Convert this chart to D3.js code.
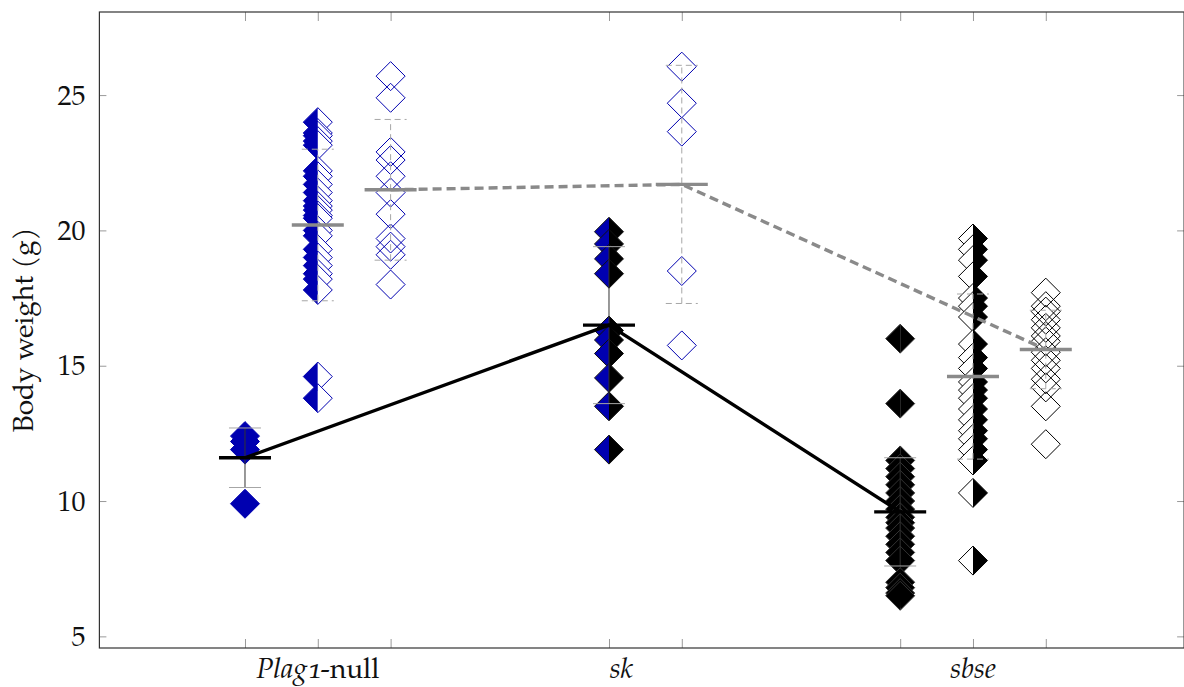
<!DOCTYPE html>
<html>
<head>
<meta charset="utf-8">
<script src="https://cdn.jsdelivr.net/npm/d3@7"></script>
<style>
  body { margin: 0; background: #fff; }
</style>
</head>
<body>
<svg id="chart" width="1184" height="687"></svg>
<script>
// ---- data -------------------------------------------------------------
// x position of every genotype column
const columnPos = [0, 1, 2, 5, 6, 9, 10, 11];

// body weight (g) of each animal, one array per column
const plagHom  = [12.4, 12.2, 11.9, 9.9];
const plagHet  = [24.0, 23.6, 23.5, 23.3, 23.15, 22.2, 22.0, 21.7, 21.4, 21.1, 20.9, 20.75,
                  20.55, 20.45, 20.0, 19.8, 19.3, 19.0, 18.7, 18.4, 18.2, 17.8, 14.6, 13.8];
const plagWt   = [25.7, 24.9, 22.9, 22.6, 22.0, 21.4, 20.6, 19.7, 19.4, 19.1, 18.0];
const skHom    = [19.95, 19.5, 18.95, 18.4, 16.3, 15.95, 15.45, 14.55, 13.5, 11.9];
const skWt     = [26.05, 24.7, 23.65, 18.5, 15.75];
const sbseHom  = [16.0, 13.6, 11.5, 11.2, 10.9, 10.6, 10.3, 10.0, 9.7, 9.4, 9.2, 9.0,
                  8.7, 8.4, 8.1, 7.8, 7.0, 6.8, 6.6, 6.5];
const sbseHet  = [19.7, 19.3, 18.9, 18.3, 17.5, 17.2, 16.8, 15.8, 15.3, 14.9, 14.4, 14.1,
                  13.8, 13.4, 13.0, 12.6, 12.3, 11.9, 11.5, 10.3, 7.8];
const sbseWt   = [17.7, 17.2, 17.0, 16.7, 16.4, 16.1, 15.9, 15.5, 15.2, 14.9, 14.5, 14.2, 13.5, 12.1];

// column means and standard deviations
const columnMean = [11.6, 20.2, 21.5, 16.5, 21.7, 9.6, 14.6, 15.6];
const columnSd   = [1.1, 2.8, 2.6, 2.9, 4.4, 2.0, 3.05, 1.45];

// marker style of each column
const columnMarker = ["fillBlue", "halfBlueWhite", "openBlue", "halfBlueBlack",
                      "openBlue", "fillBlack", "halfWhiteBlack", "openBlack"];

// trend lines joining column means (by column index)
const homTrend = [0, 3, 5];
const wtTrend  = [2, 4, 7];

// axis ticks and labels
const yTicks = [5, 10, 15, 20, 25];
const xTicks = [0, 1, 2, 5, 6, 9, 10, 11];
const groupPos = [1, 5.17, 10];
const groupLabels = [["Plag1", "-null"], ["sk", ""], ["sbse", ""]];
const yTitle = "Body weight (g)";

const columns = [plagHom, plagHet, plagWt, skHom, skWt, sbseHom, sbseHet, sbseWt];

// ---- layout -----------------------------------------------------------
const svg = d3.select("#chart");
const FONT = '"TeX Gyre Pagella", "Liberation Serif", serif';
const frame = { left: 99.4, right: 1184.1, top: 12, bottom: 648 };
const x = d3.scaleLinear().domain([-2, 12.9]).range([frame.left, frame.right]);
const y = d3.scaleLinear().domain([4.57, 28.07]).range([frame.bottom, frame.top]);

const BLUE = "#0000b0";
const GRAY = "#8a8a8a";
const LIGHT = "#a6a6a6";

// ---- axes -------------------------------------------------------------
const tickColor = "#999";
function styleAxis(g) {
  g.select(".domain").remove();
  g.selectAll(".tick line").attr("stroke", tickColor).attr("stroke-width", 1);
}

svg.append("g").attr("transform", `translate(${frame.left},0)`)
  .call(d3.axisLeft(y).tickValues(yTicks).tickSize(-7).tickPadding(14))
  .call(styleAxis)
  .selectAll("text")
  .style("font-family", FONT).style("font-size", "28px")
  .attr("fill", "#111").attr("dy", "0.33em");

svg.append("g").attr("transform", `translate(${frame.right},0)`)
  .call(d3.axisRight(y).tickValues(yTicks).tickSize(-7).tickFormat(""))
  .call(styleAxis);

svg.append("g").attr("transform", `translate(0,${frame.bottom})`)
  .call(d3.axisBottom(x).tickValues(xTicks).tickSize(-9).tickFormat(""))
  .call(styleAxis);

svg.append("g").attr("transform", `translate(0,${frame.top})`)
  .call(d3.axisTop(x).tickValues(xTicks).tickSize(-9).tickFormat(""))
  .call(styleAxis);

// group labels under the x axis (italic gene symbol, upright suffix)
const lab = svg.append("g").selectAll("text").data(groupPos).join("text")
  .attr("x", d => x(d)).attr("y", 678)
  .attr("text-anchor", "middle").attr("fill", "#111")
  .style("font-family", FONT).style("font-size", "28px");
lab.append("tspan").style("font-style", "italic")
  .style("font-variant-numeric", "oldstyle-nums")
  .text((d, i) => groupLabels[i][0]);
lab.append("tspan").text((d, i) => groupLabels[i][1]);

svg.append("text")
  .attr("transform", `translate(33,${(frame.top + frame.bottom) / 2}) rotate(-90)`)
  .attr("text-anchor", "middle").attr("fill", "#111")
  .style("font-family", FONT).style("font-size", "28px")
  .text(yTitle);

// ---- markers ----------------------------------------------------------
const R = 14.5;
const leftHalf  = `M0,${-R}L${-R},0L0,${R}Z`;
const rightHalf = `M0,${-R}L${R},0L0,${R}Z`;
const whole     = `M0,${-R}L${R},0L0,${R}L${-R},0Z`;

const markerSpec = {
  fillBlue:       { left: BLUE,   right: BLUE,   stroke: BLUE },
  halfBlueWhite:  { left: BLUE,   right: "#fff", stroke: BLUE },
  openBlue:       { left: "none", right: "none", stroke: BLUE },
  halfBlueBlack:  { left: BLUE,   right: "#000", stroke: "#111" },
  fillBlack:      { left: "#000", right: "#000", stroke: "#333" },
  halfWhiteBlack: { left: "#fff", right: "#000", stroke: "#000" },
  openBlack:      { left: "none", right: "none", stroke: "#000" }
};

const points = columns.flatMap((vals, c) => vals.map(v => ({ c, v })));
const pts = svg.append("g").selectAll("g").data(points).join("g")
  .attr("transform", d => `translate(${x(columnPos[d.c])},${y(d.v)})`);
pts.append("path").attr("d", leftHalf)
  .attr("fill", d => markerSpec[columnMarker[d.c]].left);
pts.append("path").attr("d", rightHalf)
  .attr("fill", d => markerSpec[columnMarker[d.c]].right);
pts.append("path").attr("d", whole).attr("fill", "none")
  .attr("stroke", d => markerSpec[columnMarker[d.c]].stroke).attr("stroke-width", 1);

// ---- error bars (mean ± SD) -------------------------------------------
const stats = columnPos.map((p, i) => ({
  i, p, m: columnMean[i], sd: columnSd[i], solid: homTrend.includes(i)
}));
const eb = svg.append("g").selectAll("g").data(stats).join("g");
eb.append("line")
  .attr("x1", d => x(d.p)).attr("x2", d => x(d.p))
  .attr("y1", d => y(d.m - d.sd)).attr("y2", d => y(d.m + d.sd))
  .attr("stroke", d => d.solid ? "#333" : LIGHT).attr("stroke-width", 1)
  .attr("stroke-dasharray", d => d.solid ? null : "6,4");
eb.selectAll(".cap").data(d => [d.m - d.sd, d.m + d.sd].map(v => ({ v, d }))).join("line")
  .attr("class", "cap")
  .attr("x1", e => x(e.d.p) - 16).attr("x2", e => x(e.d.p) + 16)
  .attr("y1", e => y(e.v)).attr("y2", e => y(e.v))
  .attr("stroke", LIGHT).attr("stroke-width", 1)
  .attr("stroke-dasharray", e => e.d.solid ? null : "6,4");

// ---- trend lines ------------------------------------------------------
const line = d3.line().x(i => x(columnPos[i])).y(i => y(columnMean[i]));
svg.append("path").attr("d", line(homTrend))
  .attr("fill", "none").attr("stroke", "#000").attr("stroke-width", 3.4);
svg.append("path").attr("d", line(wtTrend))
  .attr("fill", "none").attr("stroke", GRAY).attr("stroke-width", 3.4)
  .attr("stroke-dasharray", "9,5");

// ---- mean bars --------------------------------------------------------
svg.append("g").selectAll("line").data(stats).join("line")
  .attr("x1", d => x(d.p) - 26).attr("x2", d => x(d.p) + 26)
  .attr("y1", d => y(d.m)).attr("y2", d => y(d.m))
  .attr("stroke", d => d.solid ? "#000" : GRAY).attr("stroke-width", 3.4);

// ---- frame ------------------------------------------------------------
svg.append("rect")
  .attr("x", frame.left).attr("y", frame.top)
  .attr("width", frame.right - frame.left).attr("height", frame.bottom - frame.top)
  .attr("fill", "none").attr("stroke", "#333").attr("stroke-width", 1.2);
</script>
</body>
</html>
